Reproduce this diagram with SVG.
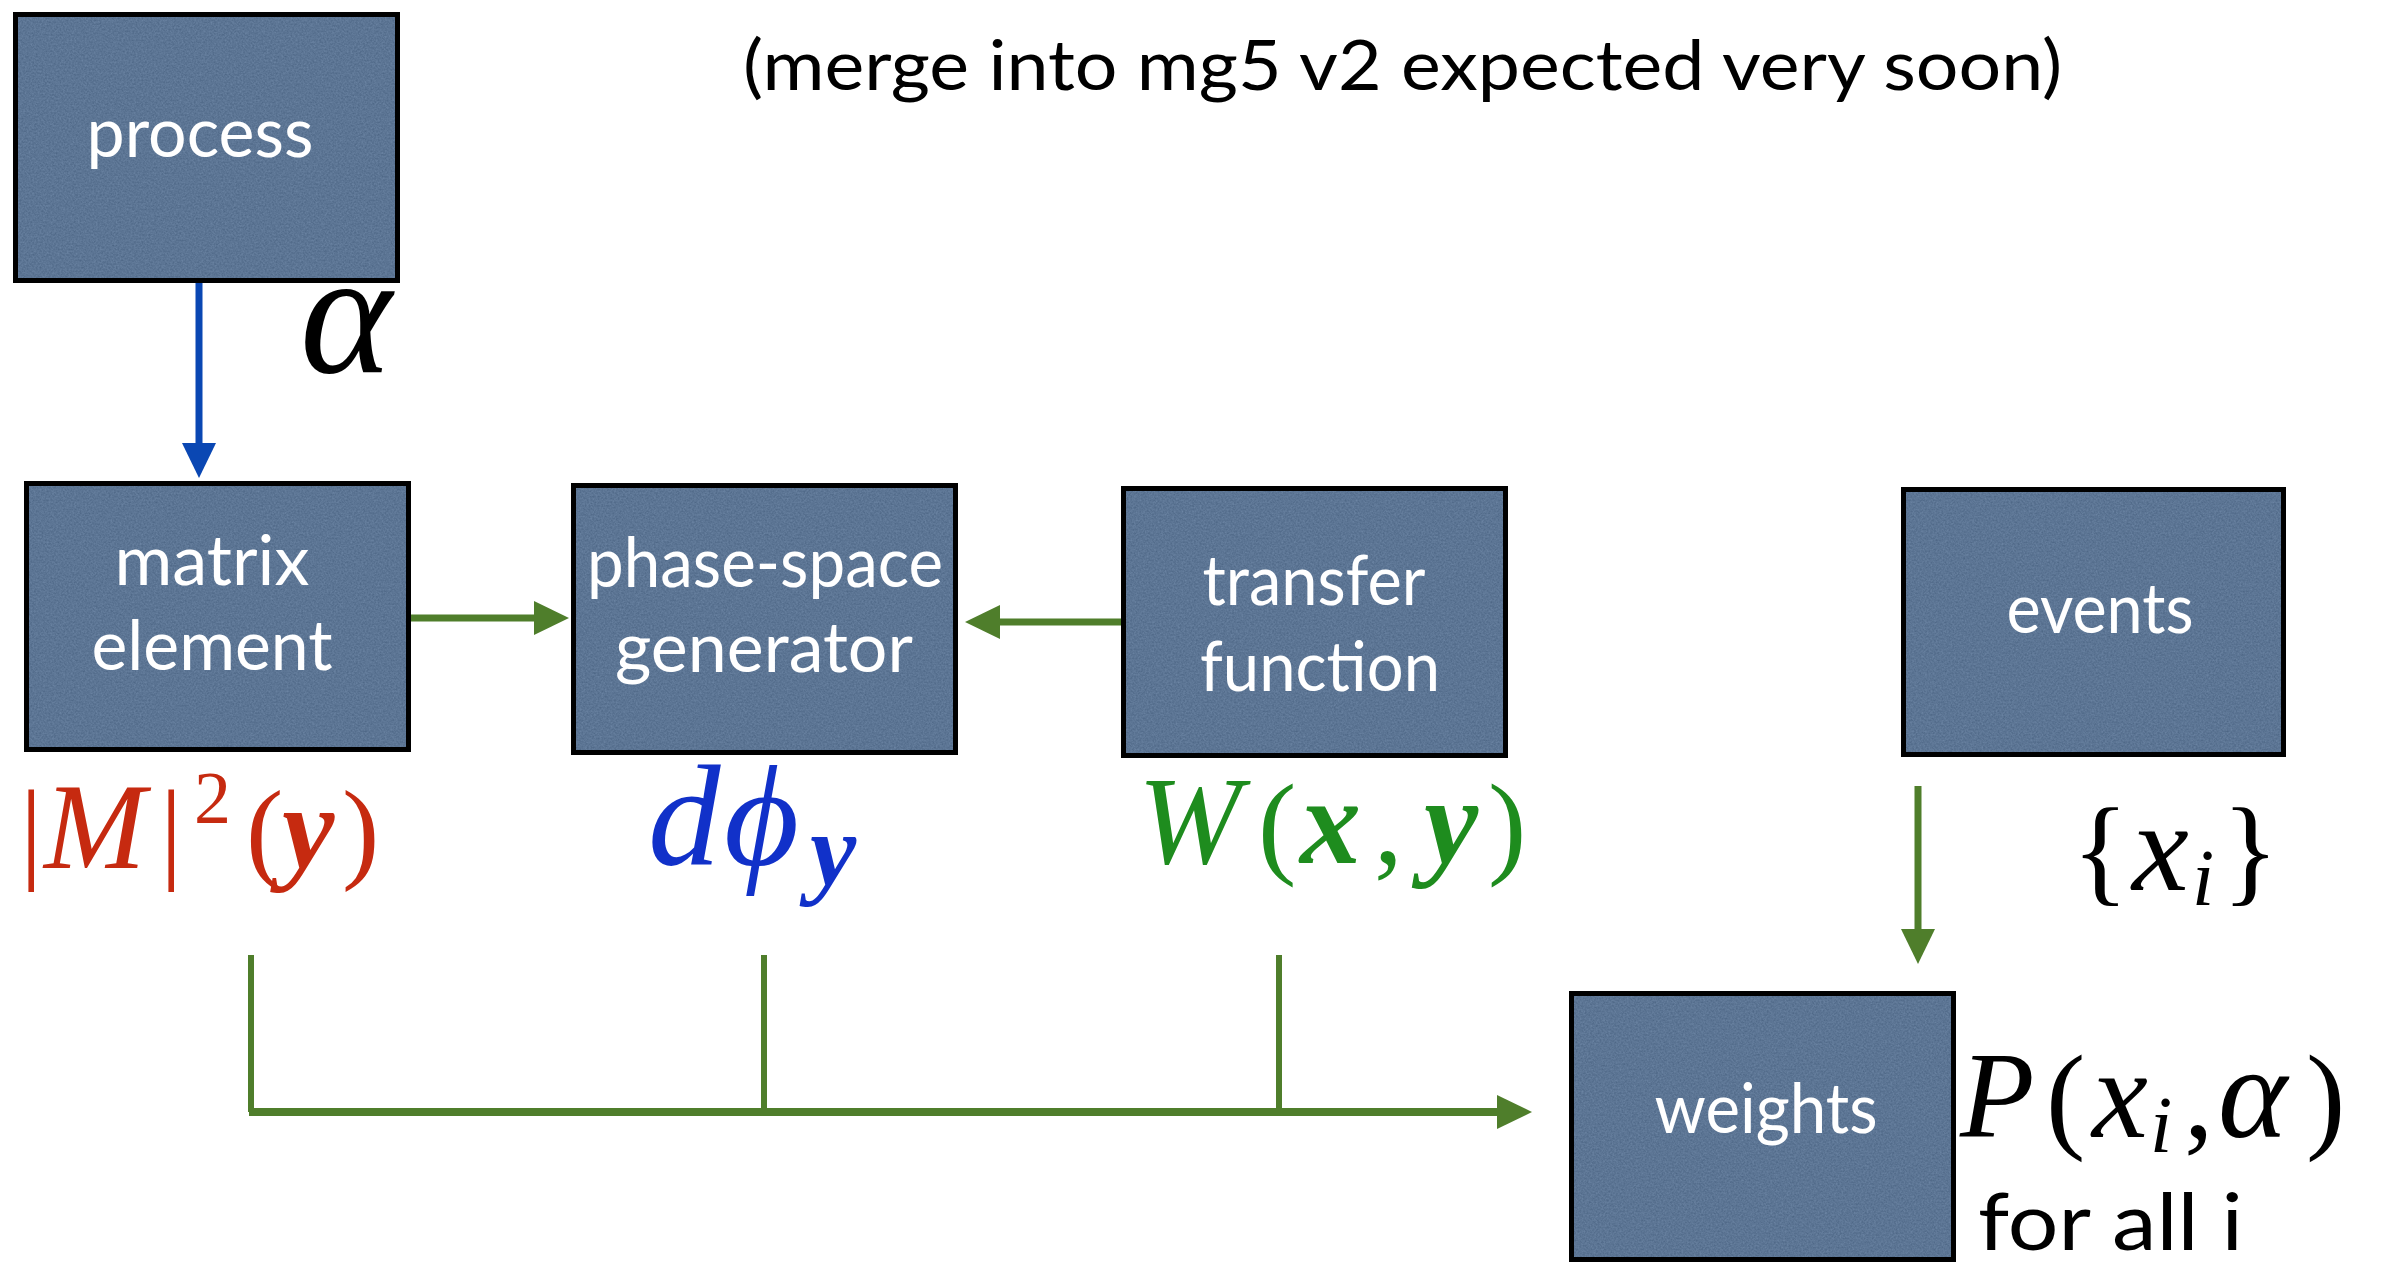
<svg xmlns="http://www.w3.org/2000/svg" width="2394" height="1268" viewBox="0 0 2394 1268">
  <style>
    .box { fill: #5c7594; stroke: none; filter: url(#grain); }
    .frame { fill: none; stroke: #000; stroke-width: 5; }
    .lbl { font-family: Lato, "Open Sans", sans-serif; font-size: 70px; fill: #ffffff; text-anchor: middle; }
    .note { font-family: Lato, "Open Sans", sans-serif; fill: #000; }
    .math { font-family: "Liberation Serif", "DejaVu Serif", serif; }
    .it { font-style: italic; }
    .bi { font-style: italic; font-weight: bold; }
    .wire { fill: none; stroke: #4f7e2b; }
    .blue { fill: none; stroke: #0a47b3; stroke-width: 7; }
  </style>
  <defs>
    <!-- paper grain for the block fills -->
    <filter id="grain" x="0" y="0" width="100%" height="100%" color-interpolation-filters="sRGB">
      <feTurbulence type="fractalNoise" baseFrequency="0.55" numOctaves="3" seed="7" result="noise"/>
      <feColorMatrix in="noise" type="matrix" values="1 0 0 0 0  1 0 0 0 0  1 0 0 0 0  0 0 0 0 1" result="gray"/>
      <feComposite in="SourceGraphic" in2="gray" operator="arithmetic" k1="0" k2="1" k3="0.14" k4="-0.07" result="mix"/>
      <feComposite in="mix" in2="SourceGraphic" operator="in"/>
    </filter>
    <marker id="headG" markerUnits="userSpaceOnUse" markerWidth="36" markerHeight="36" refX="0" refY="17" orient="auto" overflow="visible">
      <path d="M0,0 L35,17 L0,34 z" fill="#4f7e2b"/>
    </marker>
    <marker id="headB" markerUnits="userSpaceOnUse" markerWidth="36" markerHeight="36" refX="0" refY="17" orient="auto" overflow="visible">
      <path d="M0,0 L35,17 L0,34 z" fill="#0a47b3"/>
    </marker>
  </defs>

  <rect width="2394" height="1268" fill="#ffffff"/>

  <!-- caption -->
  <text id="caption" class="note" x="743" y="90" font-size="70" textLength="1319" lengthAdjust="spacingAndGlyphs">(merge into mg5 v2 expected very soon)</text>

  <!-- connectors -->
  <g id="connectors">
    <path class="blue" d="M199,283 V443" marker-end="url(#headB)"/>
    <path class="wire" stroke-width="7" d="M411,618 H534" marker-end="url(#headG)"/>
    <path class="wire" stroke-width="7" d="M1121,622 H1000" marker-end="url(#headG)"/>
    <path class="wire" stroke-width="7" d="M1918,786 V929" marker-end="url(#headG)"/>
    <path class="wire" stroke-width="6" d="M251,955 V1112 M764,955 V1112 M1279,955 V1112"/>
    <path class="wire" stroke-width="8" d="M249,1112 H1497" marker-end="url(#headG)"/>
  </g>

  <!-- blocks -->
  <g id="process">
    <rect class="box" x="15" y="14" width="383" height="267"/>
    <rect class="frame" x="15.5" y="14.5" width="382" height="266"/>
    <text class="lbl" x="200" y="157" textLength="227" lengthAdjust="spacingAndGlyphs">process</text>
  </g>
  <g id="matrix-element">
    <rect class="box" x="26" y="483" width="383" height="267"/>
    <rect class="frame" x="26.5" y="483.5" width="382" height="266"/>
    <text class="lbl" x="212" y="585" textLength="195" lengthAdjust="spacingAndGlyphs">matrix</text>
    <text class="lbl" x="212" y="670" textLength="241" lengthAdjust="spacingAndGlyphs">element</text>
  </g>
  <g id="phase-space-generator">
    <rect class="box" x="573" y="485" width="383" height="268"/>
    <rect class="frame" x="573.5" y="485.5" width="382" height="267"/>
    <text class="lbl" x="765" y="587" textLength="356" lengthAdjust="spacingAndGlyphs">phase-space</text>
    <text class="lbl" x="764" y="672" textLength="298" lengthAdjust="spacingAndGlyphs">generator</text>
  </g>
  <g id="transfer-function">
    <rect class="box" x="1123" y="488" width="383" height="268"/>
    <rect class="frame" x="1123.5" y="488.5" width="382" height="267"/>
    <text class="lbl" x="1314" y="605" textLength="223" lengthAdjust="spacingAndGlyphs">transfer</text>
    <text class="lbl" x="1320" y="691" textLength="240" lengthAdjust="spacingAndGlyphs">function</text>
  </g>
  <g id="events">
    <rect class="box" x="1903" y="489" width="381" height="266"/>
    <rect class="frame" x="1903.5" y="489.5" width="380" height="265"/>
    <text class="lbl" x="2100" y="633" textLength="187" lengthAdjust="spacingAndGlyphs">events</text>
  </g>
  <g id="weights">
    <rect class="box" x="1571" y="993" width="383" height="267"/>
    <rect class="frame" x="1571.5" y="993.5" width="382" height="266"/>
    <text class="lbl" x="1766" y="1133" textLength="223" lengthAdjust="spacingAndGlyphs">weights</text>
  </g>

  <!-- formulas -->
  <text id="alpha" class="math it" x="300" y="372" font-size="175" fill="#000">α</text>

  <text id="msq" class="math" y="868" font-size="112" fill="#c62a10"><tspan x="20">|</tspan><tspan class="it" x="44" font-size="122">M</tspan><tspan x="160" font-size="112">|</tspan><tspan x="194" y="823" font-size="74">2</tspan><tspan x="246" y="868">(</tspan><tspan class="bi" x="282" font-size="118">y</tspan><tspan x="342" font-size="112">)</tspan></text>

  <text id="dphi" class="math" y="865" font-size="145" fill="#1131c9"><tspan class="it" x="648">d</tspan><tspan class="it" x="724">ϕ</tspan><tspan class="bi" x="810" y="885" font-size="104">y</tspan></text>

  <text id="wxy" class="math" y="863" font-size="115" fill="#1e8c1e"><tspan class="it" x="1138" font-size="124">W</tspan><tspan x="1258" font-size="115">(</tspan><tspan class="bi" x="1300" font-size="122">x</tspan><tspan x="1374" font-size="115">,</tspan><tspan class="bi" x="1424" font-size="122">y</tspan><tspan x="1488" font-size="115">)</tspan></text>

  <text id="xi" class="math" y="890" font-size="118" fill="#000"><tspan x="2072">{</tspan><tspan class="it" x="2132" font-size="128">x</tspan><tspan class="it" x="2192" y="905" font-size="80">i</tspan><tspan x="2222" y="890" font-size="118">}</tspan></text>

  <text id="pxa" class="math" y="1137" font-size="118" fill="#000"><tspan class="it" x="1960" font-size="122">P</tspan><tspan x="2046" font-size="118">(</tspan><tspan class="it" x="2092" font-size="126">x</tspan><tspan class="it" x="2150" y="1152" font-size="80">i</tspan><tspan x="2184" y="1137" font-size="118">,</tspan><tspan class="it" x="2218" font-size="132">α</tspan><tspan x="2306" font-size="118">)</tspan></text>

  <text id="forall" class="note" x="1978" y="1250" font-size="80" textLength="265" lengthAdjust="spacingAndGlyphs">for all i</text>
</svg>
